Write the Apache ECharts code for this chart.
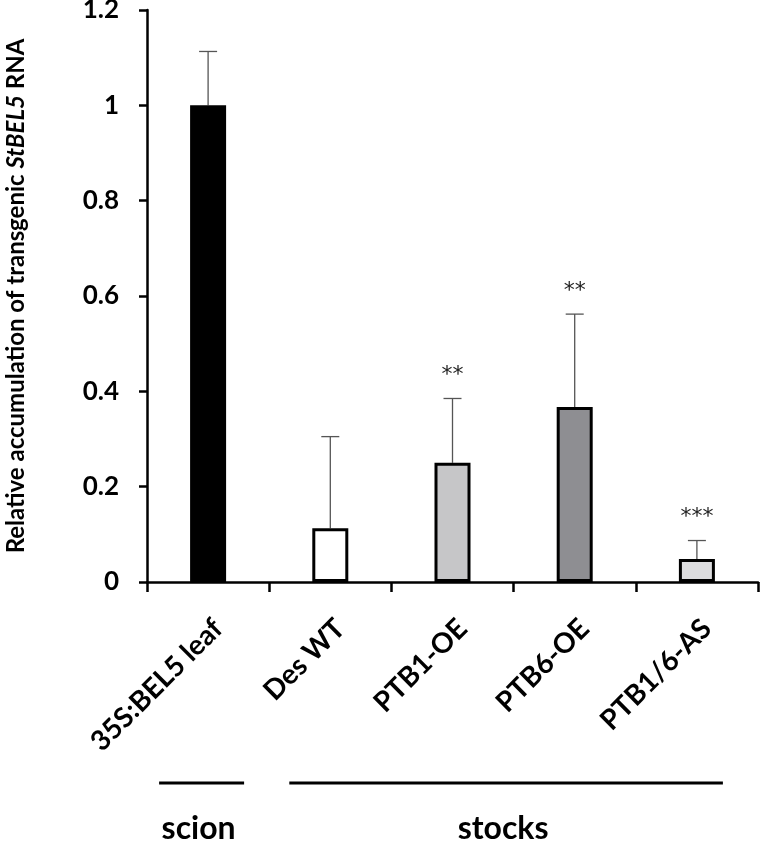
<!DOCTYPE html>
<html>
<head>
<meta charset="utf-8">
<script src="https://cdn.jsdelivr.net/npm/echarts@6/dist/echarts.min.js"></script>
<style>
  html, body { margin: 0; padding: 0; background: #fff; }
  #chart { width: 760px; height: 844px; }
</style>
</head>
<body>
<div id="chart"></div>
<script>
// ---- data ----
const categories = ['35S:BEL5 leaf', 'Des WT', 'PTB1-OE', 'PTB6-OE', 'PTB1/6-AS'];
const meanValues = [1.0, 0.113, 0.25, 0.367, 0.048];
const errorValues = [0.113, 0.192, 0.135, 0.195, 0.039];
const significance = ['', '', '**', '**', '***'];
const barColors = ['#000000', '#ffffff', '#c6c6c8', '#8e8e92', '#dcdcde'];
const yTicks = [0, 0.2, 0.4, 0.6, 0.8, 1, 1.2];
const groupLabels = ['scion', 'stocks'];
const groupFrom = [0, 1];
const groupTo = [0, 4];

// ---- layout / style ----
const FONT = 'Lato, "Open Sans", sans-serif';
const groupPadLeft = [49, 41];
const groupPadRight = [36, 26];
const groupLineY = 783;
const groupTextY = 829;

const chart = echarts.init(document.getElementById('chart'), null, { renderer: 'canvas' });

const barData = meanValues.map((v, i) => ({
  value: v,
  itemStyle: { color: barColors[i] }
}));
const errData = meanValues.map((v, i) => [i, v, v + errorValues[i]]);

const option = {
  animation: false,
  backgroundColor: '#ffffff',
  grid: { left: 147, right: 2, top: 10, bottom: 262, containLabel: false, outerBoundsMode: 'none' },
  xAxis: {
    type: 'category',
    data: categories,
    boundaryGap: true,
    axisLine: { show: true, lineStyle: { color: '#000', width: 2.5 } },
    axisTick: { show: true, alignWithLabel: false, length: 10, inside: false, lineStyle: { color: '#000', width: 2.5 } },
    axisLabel: {
      interval: 0, rotate: 45, margin: 32, verticalAlign: 'top',
      fontFamily: FONT, fontSize: 28, fontWeight: 'bold', color: '#000'
    },
    splitLine: { show: false }
  },
  yAxis: {
    type: 'value',
    min: yTicks[0], max: yTicks[yTicks.length - 1], interval: yTicks[1] - yTicks[0],
    axisLine: { show: true, onZero: false, lineStyle: { color: '#000', width: 2.5 } },
    axisTick: { show: true, length: 8, lineStyle: { color: '#000', width: 2.5 } },
    axisLabel: { margin: 28, fontFamily: FONT, fontSize: 26, fontWeight: 'bold', color: '#000' },
    splitLine: { show: false },
    name: 'Relative accumulation of transgenic {i|StBEL5} RNA',
    nameLocation: 'middle',
    nameGap: 119,
    nameTextStyle: {
      fontFamily: FONT, fontSize: 24, fontWeight: 'bold', color: '#000',
      rich: { i: { fontFamily: FONT, fontSize: 24, fontWeight: 'bold', fontStyle: 'italic', color: '#000' } }
    }
  },
  series: [
    {
      type: 'bar',
      data: barData,
      barWidth: 36,
      itemStyle: { borderColor: '#000', borderWidth: 3 },
      z: 2
    },
    {
      type: 'custom',
      data: errData,
      z: 1,
      renderItem: function (params, api) {
        const i = api.value(0);
        const base = api.coord([i, api.value(1)]);
        const top = api.coord([i, api.value(2)]);
        const cap = 9;
        const children = [
          { type: 'line', shape: { x1: base[0], y1: base[1], x2: top[0], y2: top[1] },
            style: { stroke: '#555', lineWidth: 1.3 } },
          { type: 'line', shape: { x1: top[0] - cap, y1: top[1], x2: top[0] + cap, y2: top[1] },
            style: { stroke: '#555', lineWidth: 1.3 } }
        ];
        const s = significance[params.dataIndex];
        if (s) {
          children.push({
            type: 'text',
            x: top[0], y: top[1] - 12,
            style: { text: s, fontFamily: '"DejaVu Sans", sans-serif', fontSize: 22, fill: '#222', align: 'center', verticalAlign: 'bottom' }
          });
        }
        return { type: 'group', children: children };
      }
    }
  ]
};
chart.setOption(option);

// group brackets under the axis, positioned from the category scale
const graphics = [];
groupLabels.forEach((lab, g) => {
  const x1 = chart.convertToPixel({ xAxisIndex: 0 }, categories[groupFrom[g]]) - groupPadLeft[g];
  const x2 = chart.convertToPixel({ xAxisIndex: 0 }, categories[groupTo[g]]) + groupPadRight[g];
  graphics.push({
    type: 'line',
    shape: { x1: x1, y1: groupLineY, x2: x2, y2: groupLineY },
    style: { stroke: '#000', lineWidth: 3 }
  });
  graphics.push({
    type: 'text',
    x: (x1 + x2) / 2 - 3, y: groupTextY,
    style: { text: lab, fontFamily: FONT, fontSize: 32, fontWeight: 'bold', fill: '#000', align: 'center', verticalAlign: 'middle' }
  });
});
chart.setOption({ graphic: graphics });
</script>
</body>
</html>
